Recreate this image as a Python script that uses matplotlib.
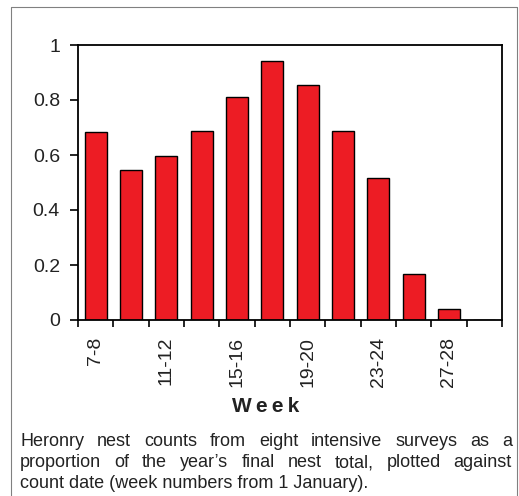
import matplotlib
matplotlib.use("Agg")
import matplotlib.pyplot as plt
from matplotlib.lines import Line2D

plt.rcParams['font.family'] = ['Liberation Sans', 'DejaVu Sans']

weeks = ['7-8', '9-10', '11-12', '13-14', '15-16', '17-18',
         '19-20', '21-22', '23-24', '25-26', '27-28', '29-30']
proportion = [0.683, 0.545, 0.597, 0.687, 0.81, 0.942,
              0.855, 0.688, 0.517, 0.166, 0.04, 0.0]
yticks = [0, 0.2, 0.4, 0.6, 0.8, 1]
ytick_labels = ['0', '0.2', '0.4', '0.6', '0.8', '1']
caption_lines = [
    "Heronry nest counts from eight intensive surveys as a",
    "proportion of the year\u2019s final nest total, plotted against",
    "count date (week numbers from 1 January).",
]

W, H = 519, 496
fig = plt.figure(figsize=(W / 100, H / 100), dpi=100)
ax = fig.add_axes([78 / W, 1 - 320 / H, (502 - 78) / W, (320 - 45) / H])

x = list(range(len(weeks)))
ax.bar(x, proportion, width=0.62, color='#ED1C24', edgecolor='black', linewidth=1.0)
ax.set_xlim(-0.5, len(weeks) - 0.5)
ax.set_ylim(0, 1)

ax.set_yticks(yticks)
ax.set_yticklabels(ytick_labels, fontsize=14, color='#222222')
ax.tick_params(axis='y', length=6, width=1.2, pad=7)

# ticks between categories, labels on every other category
ax.set_xticks([i - 0.5 for i in range(len(weeks) + 1)])
ax.set_xticklabels([])
ax.tick_params(axis='x', which='major', length=5, width=1.2)
ax.set_xticks(x[::2], minor=True)
ax.set_xticklabels(weeks[::2], minor=True, rotation=90, fontsize=14, color='#222222')
ax.tick_params(axis='x', which='minor', length=0, pad=12)

for s in ax.spines.values():
    s.set_linewidth(1.3)

fig.text(266 / W, 1 - 407 / H, 'W\u2009e\u2009e\u2009k', fontsize=15,
         fontweight='bold', ha='center', va='center', color='#222222')

# outer frame (open at the bottom)
fig.add_artist(Line2D([11 / W, 11 / W, 516.5 / W, 516.5 / W],
                      [0, 1 - 7 / H, 1 - 7 / H, 0],
                      transform=fig.transFigure, color='#808080', lw=0.8))

# justified caption
fig.canvas.draw()
r = fig.canvas.get_renderer()
x0, x1 = 20, 512
fs = 13
for i, line in enumerate(caption_lines):
    y = 1 - (446 + i * 21) / H
    if i == len(caption_lines) - 1:
        fig.text(x0 / W, y, line, fontsize=fs, va='baseline', color='#222222')
        continue
    words = line.split()
    texts = [fig.text(0, y, w, fontsize=fs, va='baseline', color='#222222') for w in words]
    widths = [t.get_window_extent(r).width for t in texts]
    gap = (x1 - x0 - sum(widths)) / (len(words) - 1)
    pos = x0
    for t, w in zip(texts, widths):
        t.set_x(pos / W)
        pos += w + gap

fig.savefig('out.png', dpi=100)
